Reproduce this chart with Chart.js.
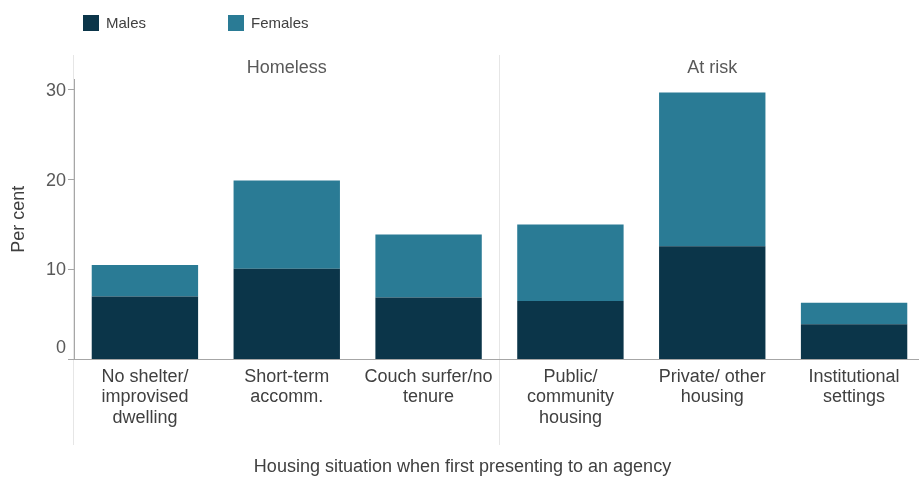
<!DOCTYPE html>
<html><head><meta charset="utf-8">
<script src="https://cdn.jsdelivr.net/npm/chart.js@4/dist/chart.umd.min.js"></script>
<style>html,body{margin:0;padding:0;overflow:hidden;background:#fff;width:919px;height:480px}canvas{display:block}</style>
</head><body>
<canvas id="c" width="926" height="480"></canvas>
<script>
const categories = [["No shelter/","improvised","dwelling"],["Short-term","accomm."],["Couch surfer/no","tenure"],["Public/","community","housing"],["Private/ other","housing"],["Institutional","settings"]];
const males = [7.0, 10.1, 6.9, 6.5, 12.6, 3.9];
const females = [3.5, 9.8, 7.0, 8.5, 17.1, 2.4];
const seriesNames = ["Males", "Females"];
const groupLabels = ["Homeless", "At risk"];
const groupSizes = [3, 3];
const yTicks = [0, 10, 20, 30];
const xTitle = "Housing situation when first presenting to an agency";
const yTitle = "Per cent";

const FONT = "'Liberation Sans', Arial, sans-serif";
Chart.defaults.font.family = FONT;
const colors = ["#0b3549", "#2a7b95"];

const decor = {
  id: 'decor',
  beforeDraw(chart) {
    const ctx = chart.ctx, ca = chart.chartArea, x = chart.scales.x;
    ctx.save();
    // group separators
    const seps = [ca.left];
    let idx = 0;
    for (let g = 0; g < groupSizes.length - 1; g++) {
      idx += groupSizes[g];
      seps.push((x.getPixelForValue(idx - 1) + x.getPixelForValue(idx)) / 2);
    }
    ctx.strokeStyle = '#e6e6e6';
    ctx.lineWidth = 1;
    seps.forEach(s => {
      ctx.beginPath();
      ctx.moveTo(Math.round(s) - 0.5, 55);
      ctx.lineTo(Math.round(s) - 0.5, 445);
      ctx.stroke();
    });
    // group labels
    const bounds = seps.concat([ca.right]);
    ctx.fillStyle = '#595959';
    ctx.font = "18px " + FONT;
    ctx.textAlign = 'center';
    ctx.textBaseline = 'middle';
    groupLabels.forEach((t, i) => {
      ctx.fillText(t, (bounds[i] + bounds[i + 1]) / 2, 68);
    });
    // legend
    const lx = [83, 228];
    ctx.font = "15px " + FONT;
    ctx.textAlign = 'left';
    chart.data.datasets.forEach((ds, i) => {
      ctx.fillStyle = ds.backgroundColor;
      ctx.fillRect(lx[i], 15, 16, 16);
      ctx.fillStyle = '#404040';
      ctx.fillText(ds.label, lx[i] + 23, 24);
    });
    ctx.restore();
  },
  afterDraw(chart) {
    const ctx = chart.ctx, ca = chart.chartArea, y = chart.scales.y;
    ctx.save();
    ctx.fillStyle = '#595959';
    ctx.font = "18px " + FONT;
    ctx.textAlign = 'right';
    ctx.textBaseline = 'middle';
    yTicks.forEach(v => {
      ctx.fillText(String(v), ca.left - 8, y.getPixelForValue(v) + (v === 0 ? -11 : 1));
    });
    ctx.restore();
  }
};

new Chart(document.getElementById('c'), {
  type: 'bar',
  data: {
    labels: categories,
    datasets: [
      { label: seriesNames[0], data: males, backgroundColor: colors[0], borderWidth: 0 },
      { label: seriesNames[1], data: females, backgroundColor: colors[1], borderWidth: 0 }
    ]
  },
  plugins: [decor],
  options: {
    responsive: false,
    animation: false,
    devicePixelRatio: 1,
    layout: { padding: { top: 79, left: 0, right: 1, bottom: 0 } },
    datasets: { bar: { categoryPercentage: 1, barPercentage: 0.75 } },
    plugins: {
      legend: { display: false },
      tooltip: { enabled: false },
      title: {
        display: true, position: 'bottom', text: xTitle,
        color: '#404040', font: { size: 18, weight: 'normal' },
        padding: { top: 0, bottom: 2 }
      }
    },
    scales: {
      x: {
        stacked: true,
        grid: { display: true, drawOnChartArea: false, drawTicks: false, color: 'rgba(0,0,0,0)' },
        border: { display: true, color: '#a6a6a6', width: 1 },
        ticks: { color: '#404040', font: { size: 18, lineHeight: 1.15 }, padding: 7, maxRotation: 0, autoSkip: false },
        afterFit(s) { s.height = 97; }
      },
      y: {
        stacked: true,
        min: 0, max: 31.2,
        ticks: { stepSize: 10, includeBounds: false, display: false },
        grid: { drawOnChartArea: false, drawTicks: true, tickLength: 6, color: '#a6a6a6' },
        border: { display: true, color: '#a6a6a6', width: 1 },
        title: { display: true, text: yTitle, color: '#404040', font: { size: 18 }, padding: { top: 8, bottom: 0 } },
        afterFit(s) { s.width = 74; }
      }
    }
  }
});
</script>
</body></html>
